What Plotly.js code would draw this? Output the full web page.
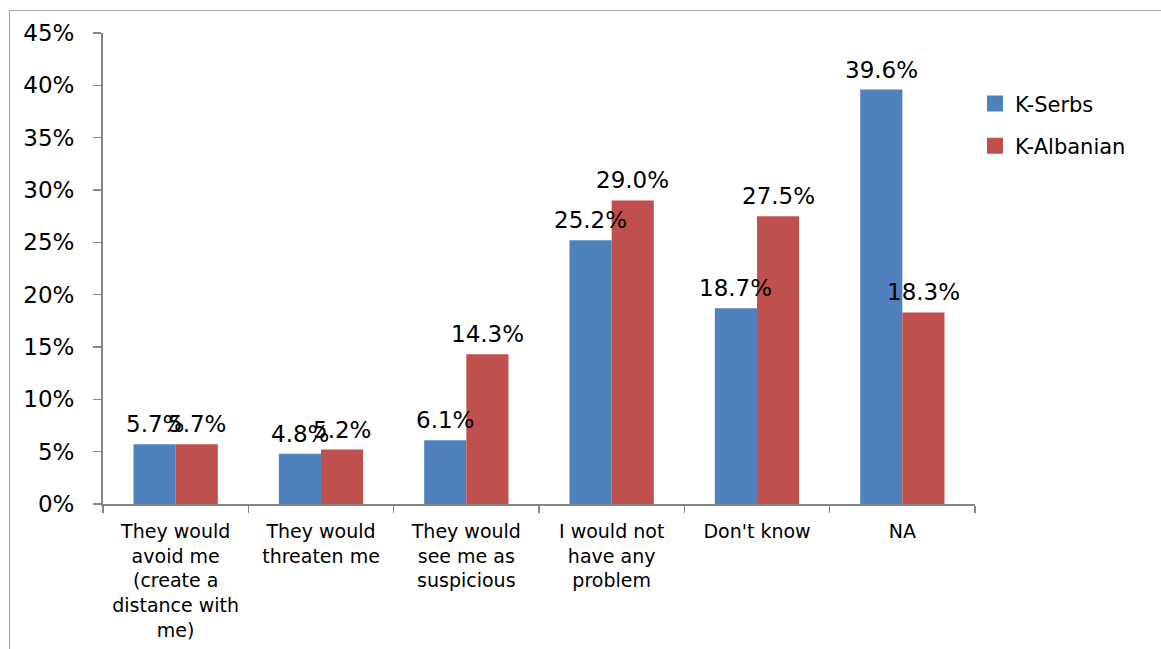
<!DOCTYPE html>
<html>
<head>
<meta charset="utf-8">
<script src="https://cdn.plot.ly/plotly-3.0.1.min.js"></script>
<style>
  html, body { margin: 0; padding: 0; background: #fff; overflow: hidden; }
  #chart { width: 1161px; height: 649px; position: absolute; left: 0; top: 0; }
  #frame { position: absolute; left: 9px; top: 10px; width: 1170px; height: 660px; border: 1px solid #a6a6a6; pointer-events: none; }
</style>
</head>
<body>
<div id="chart"></div>
<div id="frame"></div>
<script>
const categories = [
  "They would<br>avoid me<br>(create a<br>distance with<br>me)",
  "They would<br>threaten me",
  "They would<br>see me as<br>suspicious",
  "I would not<br>have any<br>problem",
  "Don't know",
  "NA"
];
const seriesNames = ["K-Serbs", "K-Albanian"];
const serbs = [5.7, 4.8, 6.1, 25.2, 18.7, 39.6];
const albanian = [5.7, 5.2, 14.3, 29.0, 27.5, 18.3];
const seriesColors = ["#4F81BD", "#C0504D"];
const yTicks = [0, 5, 10, 15, 20, 25, 30, 35, 40, 45];

const font = "DejaVu Sans, Verdana, sans-serif";
const seriesValues = [serbs, albanian];

const data = [];
seriesValues.forEach((vals, i) => {
  data.push({
    type: "bar",
    x: categories,
    y: vals,
    name: seriesNames[i],
    marker: { color: seriesColors[i], line: { width: 0 } },
    showlegend: false,
    hoverinfo: "skip"
  });
});
// legend entries with larger square swatches
seriesValues.forEach((vals, i) => {
  data.push({
    type: "scatter",
    mode: "markers",
    x: [null],
    y: [null],
    name: seriesNames[i],
    legendgroup: "g" + i,
    marker: { symbol: "square", size: 17, color: seriesColors[i] },
    showlegend: true,
    hoverinfo: "skip"
  });
});

// value labels placed above each bar
const annotations = [];
const plotW = 1161 - 103 - 186;
const bargap = 0.42;
const barW = plotW / categories.length * (1 - bargap) / 2;
seriesValues.forEach((vals, i) => {
  vals.forEach((v, j) => {
    annotations.push({
      x: categories[j],
      y: v,
      xref: "x",
      yref: "y",
      text: v.toFixed(1) + "%",
      showarrow: false,
      xanchor: "center",
      yanchor: "bottom",
      xshift: (i === 0 ? -1 : 1) * barW / 2,
      yshift: 5,
      font: { family: font, size: 23, color: "#000" }
    });
  });
});

const layout = {
  width: 1161,
  height: 649,
  margin: { l: 103, r: 186, t: 33, b: 145 },
  paper_bgcolor: "rgba(0,0,0,0)",
  plot_bgcolor: "rgba(0,0,0,0)",
  barmode: "group",
  bargap: bargap,
  bargroupgap: 0,
  showlegend: true,
  annotations: annotations,
  legend: {
    x: 1.0, xanchor: "left", xref: "paper",
    y: 0.893, yanchor: "top",
    font: { family: font, size: 21, color: "#000" },
    itemwidth: 30,
    tracegroupgap: 12,
    bgcolor: "rgba(0,0,0,0)"
  },
  xaxis: {
    type: "category",
    showline: true,
    linecolor: "#868686",
    linewidth: 2,
    ticks: "outside",
    tickson: "boundaries",
    ticklen: 7,
    tickcolor: "#868686",
    tickwidth: 1.5,
    showgrid: false,
    tickangle: 0,
    ticklabelstandoff: 9,
    tickfont: { family: font, size: 19, color: "#000" },
    automargin: false
  },
  yaxis: {
    range: [0, 45],
    tickvals: yTicks,
    ticktext: yTicks.map(v => v + "%"),
    showline: true,
    linecolor: "#868686",
    linewidth: 2,
    ticks: "outside",
    ticklen: 8,
    tickcolor: "#868686",
    tickwidth: 1.5,
    showgrid: false,
    zeroline: false,
    ticklabelstandoff: 14,
    tickfont: { family: font, size: 23, color: "#000" },
    automargin: false
  }
};

Plotly.newPlot("chart", data, layout, { displayModeBar: false, staticPlot: true });
</script>
</body>
</html>
